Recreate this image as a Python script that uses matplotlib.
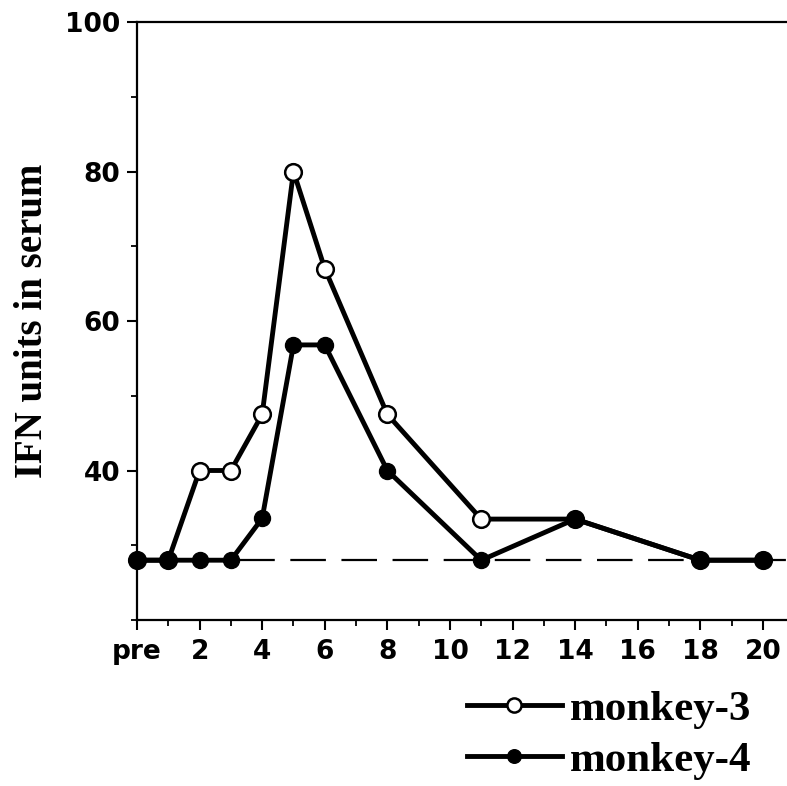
import matplotlib
matplotlib.use('Agg')
import matplotlib.pyplot as plt
from matplotlib.ticker import MultipleLocator

# days after infection ("pre" = day 0)
days = [0, 1, 2, 3, 4, 5, 6, 8, 11, 14, 18, 20]
monkey3 = [28, 28, 40, 40, 47.5, 80, 67, 47.5, 33.5, 33.5, 28, 28]
monkey4 = [28, 28, 28, 28, 33.6, 56.8, 56.8, 40, 28, 33.5, 28, 28]
baseline = 28
tick_days = [0, 2, 4, 6, 8, 10, 12, 14, 16, 18, 20]
tick_labels = ['pre', '2', '4', '6', '8', '10', '12', '14', '16', '18', '20']

fig = plt.figure(figsize=(7.87, 7.86), dpi=100)
ax = fig.add_axes([137/787, 1 - 620/786, 1 - 137/787, (620 - 22)/786])

ax.axhline(baseline, color='black', lw=1.6, dashes=(16, 7), zorder=1)

l4, = ax.plot(days, monkey4, color='black', lw=3.5, marker='o', ms=11.5,
              mfc='black', mec='black', zorder=3, clip_on=False)
l3, = ax.plot(days, monkey3, color='black', lw=3.5, marker='o', ms=12,
              mfc='white', mec='black', mew=1.8, zorder=2, clip_on=False)

ax.set_xlim(0, 20.77)
ax.set_ylim(20, 100)
ax.set_xticks(tick_days)
ax.set_xticklabels(tick_labels)
ax.xaxis.set_minor_locator(MultipleLocator(1))
ax.set_yticks([40, 60, 80, 100])
ax.yaxis.set_minor_locator(MultipleLocator(10))
ax.spines['right'].set_visible(False)
for s in ['left', 'bottom', 'top']:
    ax.spines[s].set_linewidth(1.6)
ax.tick_params(which='major', direction='out', length=7, width=1.5,
               labelsize=19)
ax.tick_params(axis='y', which='major', pad=5)
ax.tick_params(axis='x', which='major', pad=7)
ax.tick_params(which='minor', direction='out', length=4, width=1.3)
for lab in ax.get_xticklabels() + ax.get_yticklabels():
    lab.set_fontfamily('DejaVu Sans')
    lab.set_fontweight('bold')

ax.set_ylabel('IFN units in serum', fontsize=28, fontweight='bold',
              family='Liberation Serif')
ax.yaxis.set_label_coords(-0.132, 0.5)

leg = fig.legend([l3, l4], ['monkey-3', 'monkey-4'], loc='upper left',
                 bbox_to_anchor=(467/787, 1 - 690/786), frameon=False,
                 prop={'family': 'Liberation Serif', 'weight': 'bold', 'size': 31},
                 handlelength=2.2, handletextpad=0.18, labelspacing=0.28,
                 markerscale=0.85, borderpad=0, borderaxespad=0)

fig.savefig('out.png', dpi=100)
